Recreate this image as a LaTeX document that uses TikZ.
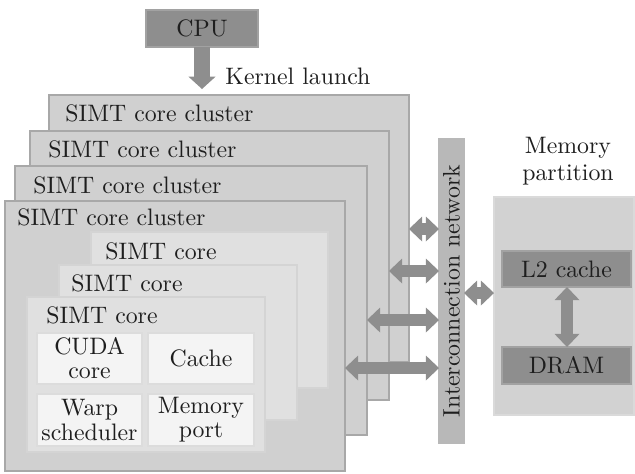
\documentclass[tikz,border=0pt]{standalone}
\usepackage{fontspec}
\usetikzlibrary{arrows.meta,fit}
\definecolor{txt}{HTML}{1E1E1E}
\definecolor{clusterfill}{HTML}{D0D0D0}
\definecolor{clusterline}{HTML}{A8A8A8}
\definecolor{corefill}{HTML}{E0E0E0}
\definecolor{coreline}{HTML}{D4D4D4}
\definecolor{unitfill}{HTML}{F4F4F4}
\definecolor{unitline}{HTML}{DCDCDC}
\definecolor{darkfill}{HTML}{8E8E8E}
\definecolor{darkline}{HTML}{A2A2A2}
\definecolor{arrowc}{HTML}{8E8E8E}
\definecolor{netfill}{HTML}{B8B8B8}
\definecolor{memfill}{HTML}{D2D2D2}
\definecolor{memline}{HTML}{DADADA}
\begin{document}
\begin{tikzpicture}[x=0.42pt,y=-0.42pt,
  every node/.style={font=\fontsize{10}{10.1}\selectfont, text=txt},
  plainbox/.style={inner sep=0pt, outer sep=0pt, line width=0.5pt},
  clusterbox/.style={plainbox, fill=clusterfill, draw=clusterline},
  corebox/.style={plainbox, fill=corefill, draw=coreline},
  unitbox/.style={plainbox, fill=unitfill, draw=unitline, align=center},
  darkbox/.style={plainbox, fill=darkfill, draw=darkline},
  netbox/.style={plainbox, fill=netfill, draw=netfill},
  membox/.style={plainbox, fill=memfill, draw=memline},
  lbl/.style={anchor=base west, inner sep=0pt},
  ctr/.style={anchor=base, inner sep=0pt},
  bigarrow/.style={draw=arrowc, line width=5pt, {Triangle[width=10.5pt,length=5.5pt,line width=0pt]}-{Triangle[width=10.5pt,length=5.5pt,line width=0pt]}},
  downarrow/.style={draw=arrowc, line width=6.7pt, -{Triangle[width=11.4pt,length=5.2pt,line width=0pt]}}
]
\useasboundingbox (0,0) rectangle (635,473);

% CPU
\node[darkbox, fit={(146,10) (258,47)}] (cpu) {};
\node[ctr] (cputext) at (202,36) {CPU};
\coordinate (klaunch) at (202,89);
\node[lbl] (kernel) at (225,84) {Kernel launch};

% clusters
\node[clusterbox, fit={(49,95) (409,362)}] (cl1) {};
\node[lbl] (cl1t) at (65,121) {SIMT core cluster};
\node[clusterbox, fit={(30,131) (389,400)}] (cl2) {};
\node[lbl] (cl2t) at (48,157) {SIMT core cluster};
\node[clusterbox, fit={(15,166) (367,435)}] (cl3) {};
\node[lbl] (cl3t) at (33,193) {SIMT core cluster};
\node[clusterbox, fit={(5,201) (345,471)}] (cl4) {};
\node[lbl] (cl4t) at (17,225) {SIMT core cluster};

% cores
\node[corebox, fit={(91,232) (328,388)}] (co1) {};
\node[lbl] (co1t) at (105,259) {SIMT core};
\node[corebox, fit={(59,265) (297,420)}] (co2) {};
\node[lbl] (co2t) at (71,291) {SIMT core};
\node[corebox, fit={(27,297) (265,452)}] (co3) {};
\node[lbl] (co3t) at (46,323) {SIMT core};

% units
\node[unitbox, fit={(37,333) (142,384)}] (cuda) {};
\node[align=center, inner sep=0pt] at (cuda.center) {CUDA\\core};
\node[unitbox, fit={(148,333) (254,384)}] (cache) {};
\node[inner sep=0pt] at (cache.center) {Cache};
\node[unitbox, fit={(37,394) (142,446)}] (warp) {};
\node[align=center, inner sep=0pt] at (warp.center) {Warp\\scheduler};
\node[unitbox, fit={(148,394) (254,446)}] (mport) {};
\node[align=center, inner sep=0pt] at (mport.center) {Memory\\port};

% interconnect
\node[netbox, fit={(439,139) (464,443)}] (net) {};
\node[rotate=90, inner sep=0pt] (nett) at (net.center) {Interconnection network};

% memory partition
\node[ctr] (memt1) at (568,153) {Memory};
\node[ctr] (memt2) at (568,180) {partition};
\node[membox, fit={(494,197) (634,415)}] (mem) {};
\node[darkbox, fit={(502,251) (631,287)}] (l2) {};
\node[inner sep=0pt] at (l2.center) {L2 cache};
\node[darkbox, fit={(502,347) (631,384)}] (dram) {};
\node[inner sep=0pt] at (dram.center) {DRAM};

% arrows
\draw[downarrow] (cpu.south) -- (klaunch);
\draw[bigarrow] (cl1.east |- 0,229) -- (net.west |- 0,229);
\draw[bigarrow] (cl2.east |- 0,271) -- (net.west |- 0,271);
\draw[bigarrow] (cl3.east |- 0,320) -- (net.west |- 0,320);
\draw[bigarrow] (cl4.east |- 0,368) -- (net.west |- 0,368);
\draw[bigarrow] (net.east |- 0,293) -- (mem.west |- 0,293);
\draw[bigarrow] (l2.south -| 567,0) -- (dram.north -| 567,0);
\end{tikzpicture}
\end{document}
